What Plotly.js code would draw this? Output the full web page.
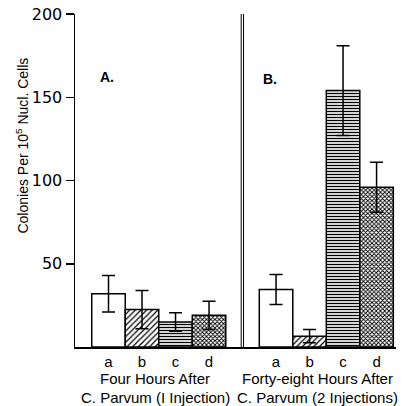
<!DOCTYPE html>
<html>
<head>
<meta charset="utf-8">
<script src="https://cdn.plot.ly/plotly-3.0.1.min.js"></script>
<style>html,body{margin:0;padding:0;background:#fff}#chart{width:406px;height:406px}</style>
</head>
<body>
<div id="chart"></div>
<script>
// ---- data ----
const categories = ["a", "b", "c", "d"];
const groupAValues = [32, 22.5, 15, 19];
const groupAErrors = [11, 11.5, 5.5, 8.5];
const groupBValues = [34.5, 6.5, 154, 96];
const groupBErrors = [9, 4, 27, 15];
const groupTitleLine1 = ["Four Hours After", "Forty-eight Hours After"];
const groupTitleLine2 = ["C. Parvum (I Injection)", "C. Parvum (2 Injections)"];
const panelLabels = ["A.", "B."];
const yTickVals = [50, 100, 150, 200];

// ---- styles ----
const patterns = [
  {shape: "", fillmode: "replace"},
  {shape: "/", size: 4, solidity: 0.3, fgcolor: "#000", bgcolor: "#fff", fillmode: "replace"},
  {shape: "-", size: 3, solidity: 0.45, fgcolor: "#000", bgcolor: "#fff", fillmode: "replace"},
  {shape: "x", size: 3, solidity: 0.5, fgcolor: "#000", bgcolor: "#fff", fillmode: "replace"}
];
const font = "Liberation Sans, Arial, sans-serif";
const tickFont = "DejaVu Sans, sans-serif";

function makeTraces(values, errors, offset) {
  return categories.map((c, i) => ({
    type: "bar",
    x: [i + offset],
    y: [values[i]],
    width: 1,
    marker: {color: "#fff", line: {color: "#000", width: 1.5}, pattern: patterns[i]},
    error_y: {type: "data", array: [errors[i]], visible: true, color: "#000", thickness: 1.5, width: 6.5},
    showlegend: false,
    hoverinfo: "skip"
  }));
}

const traces = [...makeTraces(groupAValues, groupAErrors, 1), ...makeTraces(groupBValues, groupBErrors, 6)];
const tickvals = [...categories.map((c, i) => i + 1), ...categories.map((c, i) => i + 6)];
const ticktext = [...categories, ...categories];
const groupCenters = [2.4, 7.25];

const annotations = [
  {text: panelLabels[0], x: 0.96, y: 162, xref: "x", yref: "y", showarrow: false, font: {size: 14, family: font, weight: "bold"}},
  {text: panelLabels[1], x: 5.82, y: 161, xref: "x", yref: "y", showarrow: false, font: {size: 14, family: font, weight: "bold"}},
  {text: "Colonies Per 10<sup>5</sup> Nucl. Cells", x: 0, y: 121, xref: "paper", yref: "y", xanchor: "center",
   xshift: -53, textangle: -90, showarrow: false, font: {size: 14, family: font}}
];
groupCenters.forEach((cx, g) => {
  annotations.push({text: groupTitleLine1[g], x: cx, y: 0, xref: "x", yref: "paper", yanchor: "middle", yshift: -31, showarrow: false, font: {size: 15, family: font}});
  annotations.push({text: groupTitleLine2[g], x: cx, y: 0, xref: "x", yref: "paper", yanchor: "middle", yshift: -50, showarrow: false, font: {size: 15, family: font}});
});

const layout = {
  width: 406, height: 406,
  margin: {l: 75, r: 10, t: 14, b: 59},
  paper_bgcolor: "#fff", plot_bgcolor: "#fff",
  font: {family: font, color: "#000"},
  bargap: 0,
  xaxis: {
    range: [0, 9.58], showgrid: false, zeroline: false,
    showline: true, linecolor: "#000", linewidth: 1.5,
    tickmode: "array", tickvals: tickvals, ticktext: ticktext,
    ticks: "", tickfont: {size: 15, family: font}, fixedrange: true
  },
  yaxis: {
    range: [0, 200], showgrid: false, zeroline: false,
    showline: true, linecolor: "#000", linewidth: 1.5,
    tickmode: "array", tickvals: yTickVals,
    ticks: "outside", ticklen: 8, tickwidth: 1.5, tickcolor: "#000",
    tickfont: {size: 16, family: tickFont}, fixedrange: true
  },
  shapes: [
    {type: "line", xref: "x", yref: "y", x0: 4.96, x1: 4.96, y0: 0, y1: 200.5, line: {color: "#000", width: 1}},
    {type: "line", xref: "x", yref: "y", x0: 5.03, x1: 5.03, y0: 0, y1: 200.5, line: {color: "#000", width: 1}}
  ],
  annotations: annotations
};

Plotly.newPlot("chart", traces, layout, {displayModeBar: false, staticPlot: true});
</script>
</body>
</html>
